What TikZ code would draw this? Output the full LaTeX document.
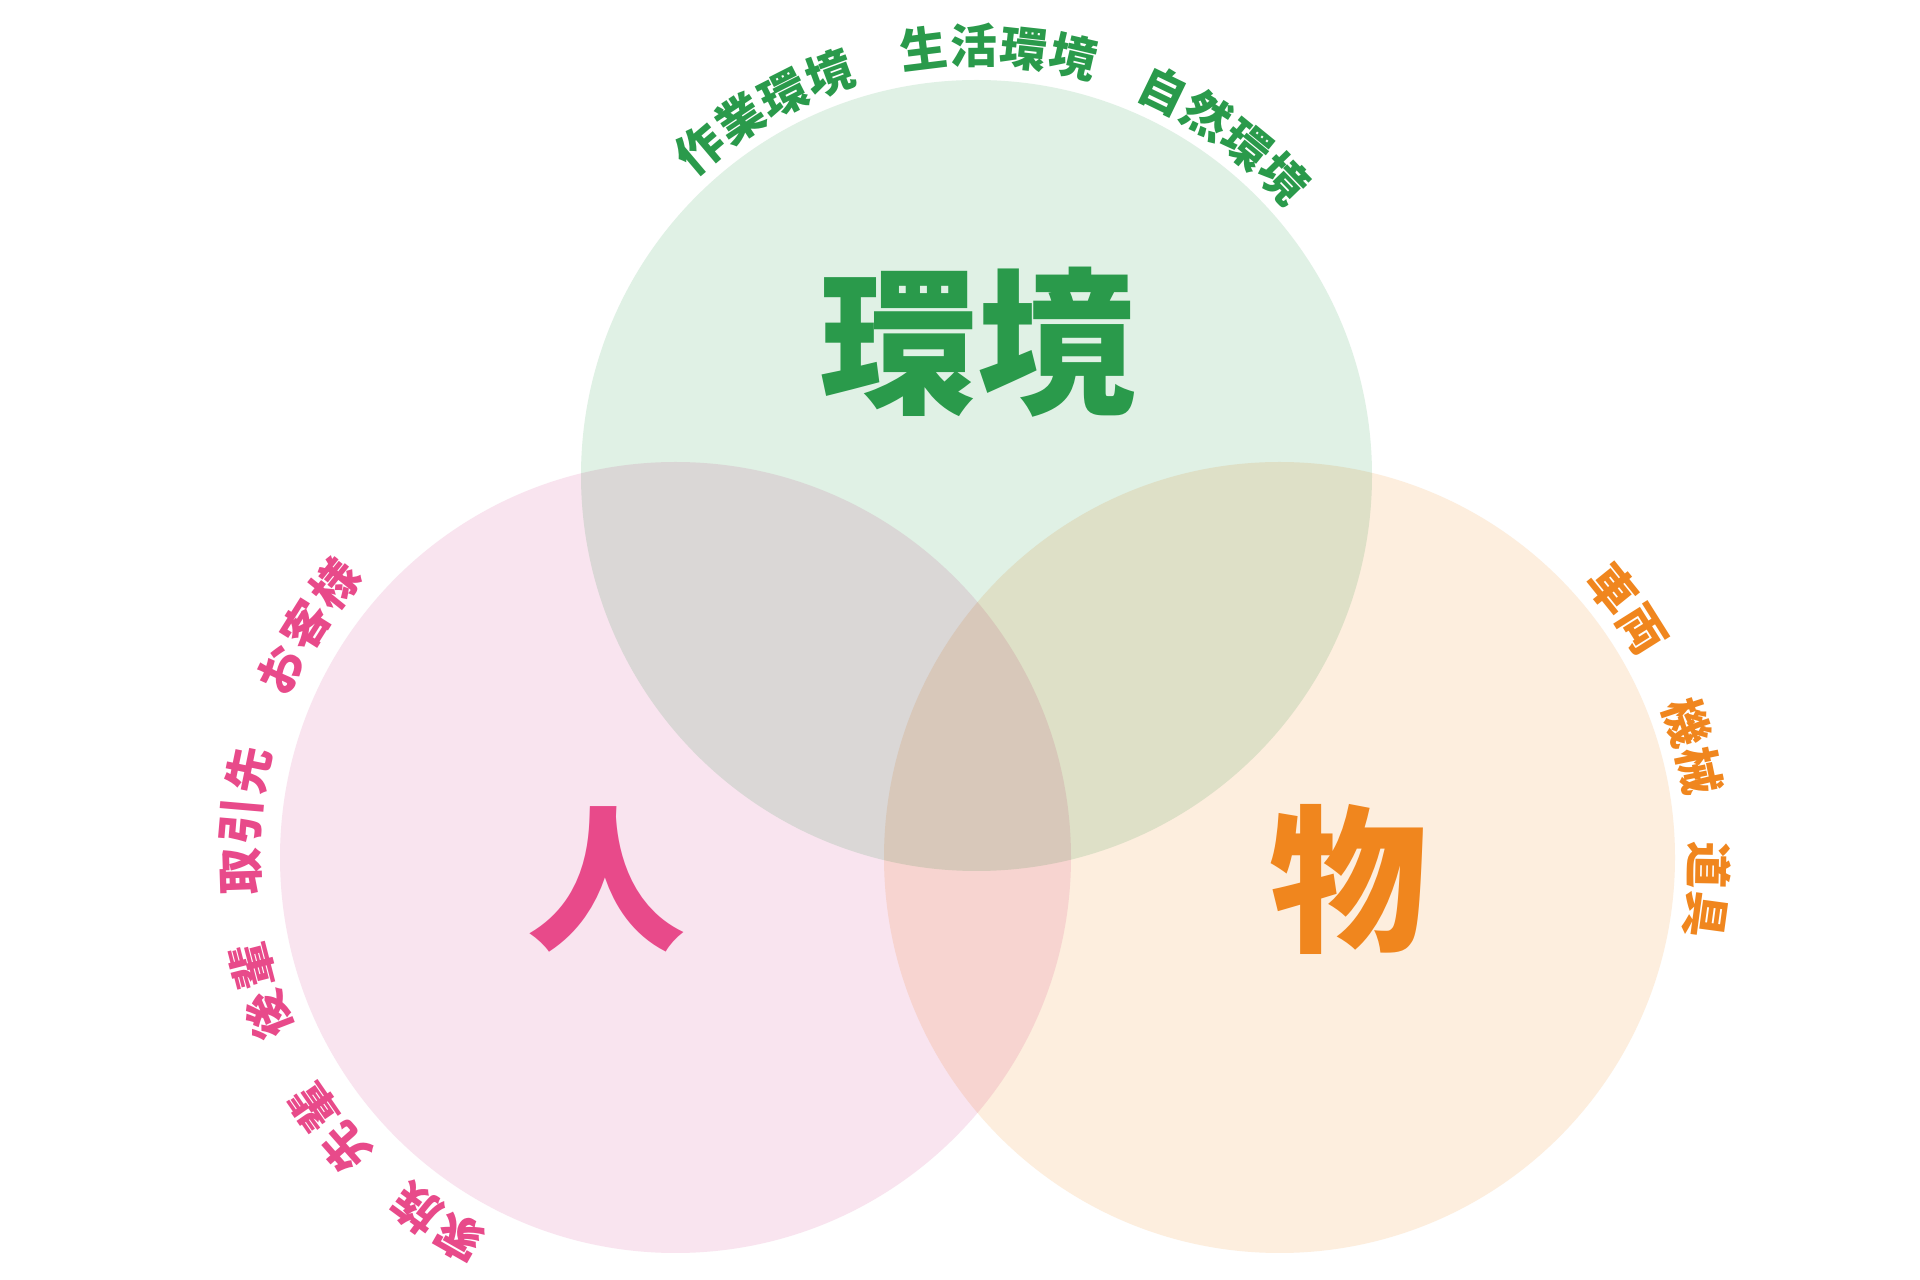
\documentclass[tikz,border=0pt]{standalone}
\usepackage{fontspec}
\newfontfamily\cjk{Noto Sans CJK JP}
\usetikzlibrary{calc}
\definecolor{gfill}{HTML}{E0F1E5}
\definecolor{pfill}{HTML}{F9E4EF}
\definecolor{ofill}{HTML}{FDEEDE}
\definecolor{gtext}{HTML}{2A9A4B}
\definecolor{ptext}{HTML}{E84A8A}
\definecolor{otext}{HTML}{F0861E}
\newcommand\stepang{6.7}
% #1 centre, #2 radius, #3 mid angle, #4 number of chars, #5 style, #6 name, #7 chars
\newcommand\arclabel[7]{%
  \foreach \ch [count=\k] in {#7}{%
    \pgfmathsetmacro\ang{#3+\stepang*((#4+1)/2-\k)}%
    \node[#5, rotate=\ang-90] (#6-\k) at ($(#1)+(\ang:#2)$) {\ch};
  }}
\begin{document}
\begin{tikzpicture}[x=1pt,y=1pt,
  lab/.style={font=\cjk\bfseries\fontsize{47}{49}\selectfont, inner sep=-4pt, text height=41.4pt, text depth=5.6pt},
  big/.style={font=\cjk\bfseries\fontsize{158}{160}\selectfont, inner sep=0pt, text height=139pt, text depth=19pt},
  glab/.style={lab, text=gtext},
  plab/.style={lab, text=ptext},
  olab/.style={lab, text=otext}]
\fill[white] (0,0) rectangle (1920,1280);
\useasboundingbox (0,0) rectangle (1920,1280);
\coordinate (gc) at (976.5,804.5);
\coordinate (pc) at (675.5,422.5);
\coordinate (oc) at (1279.5,422.5);
\begin{scope}[blend group=multiply]
  \fill[gfill] (gc) circle[radius=395.5];
  \fill[pfill] (pc) circle[radius=395.5];
  \fill[ofill] (oc) circle[radius=395.5];
\end{scope}
\node[big, text=gtext] (kankyo) at (977,938) {環境};
\node[big, text=ptext] (hito) at (606,401) {人};
\node[big, text=otext] (mono) at (1348,400) {物};
% green labels
\arclabel{gc}{428}{120.2}{4}{glab}{sagyo}{作,業,環,境}
\arclabel{gc}{430}{87}{4}{glab}{seikatsu}{生,活,環,境}
\arclabel{gc}{428}{54.1}{4}{glab}{shizen}{自,然,環,境}
% pink labels
\arclabel{pc}{437}{147.9}{3}{plab}{kyaku}{お,客,様}
\arclabel{pc}{436}{175.1}{3}{plab}{torihiki}{取,引,先}
\arclabel{pc}{437}{197.8}{2}{plab}{kohai}{後,輩}
\arclabel{pc}{439}{218}{2}{plab}{senpai}{先,輩}
\arclabel{pc}{437}{237}{2}{plab}{kazoku}{家,族}
% orange labels
\arclabel{oc}{429}{35.5}{2}{olab}{sharyo}{車,両}
\arclabel{oc}{429}{15}{2}{olab}{kikai}{機,械}
\arclabel{oc}{430}{-4.4}{2}{olab}{dogu}{道,具}
\end{tikzpicture}
\end{document}
